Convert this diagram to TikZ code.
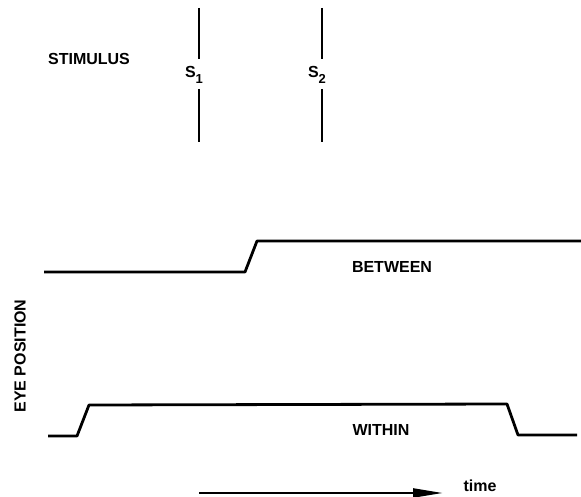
\documentclass[tikz,border=0pt]{standalone}
\usepackage{fontspec}
\setmainfont{Liberation Sans}
\usetikzlibrary{positioning, arrows.meta}

\newcommand{\stimname}[1]{S\raisebox{-0.4em}{\fontsize{13}{13}\selectfont #1}}

\begin{document}
\begin{tikzpicture}[
                x=1pt, y=-1pt,
                txt/.style={font=\fontsize{16}{18}\selectfont\bfseries, inner sep=0pt},
                stim/.style={draw, line width=2.8pt},
                trace/.style={draw, line width=2.8pt, line join=round},
                arrow/.style={draw, line width=2.4pt, -{Triangle[length=30pt, width=9pt]}}
              ]
  \useasboundingbox (0,0) rectangle (581,497);

  % Stimulus markers
  \node (STIM) [txt] at (89,59) {STIMULUS};
  \node (S1) [txt] at (194,75) {\stimname{1}};
  \node (S2) [txt] at (317,75) {\stimname{2}};
  \coordinate (s1a) at (199,8);   \coordinate (s1b) at (199,59);
  \coordinate (s1c) at (199,89);  \coordinate (s1d) at (199,142);
  \coordinate (s2a) at (322,8);   \coordinate (s2b) at (322,59);
  \coordinate (s2c) at (322,89);  \coordinate (s2d) at (322,142);
  \draw[stim] (s1a) -- (s1b);
  \draw[stim] (s1c) -- (s1d);
  \draw[stim] (s2a) -- (s2b);
  \draw[stim] (s2c) -- (s2d);

  % Eye position traces
  \node (EYE) [txt, rotate=90] at (20,356) {EYE POSITION};

  \coordinate (b0) at (44,272);  \coordinate (b1) at (245,272);
  \coordinate (b2) at (257,241); \coordinate (b3) at (581,241);
  \draw[trace] (b0) -- (b1) -- (b2) -- (b3);
  \node (BTW) [txt] at (392,267) {BETWEEN};

  \coordinate (w0) at (48,436);  \coordinate (w1) at (77,436);
  \coordinate (w2) at (89,405);  \coordinate (w3) at (507,404);
  \coordinate (w4) at (518,435); \coordinate (w5) at (577,435);
  \draw[trace] (w0) -- (w1) -- (w2) -- (w3) -- (w4) -- (w5);
  \node (WTH) [txt] at (381,430) {WITHIN};

  % Time axis
  \coordinate (t0) at (199,493);
  \coordinate (t1) at (443,493);
  \node (TIME) [txt] at (480,486) {time};
  \draw[arrow] (t0) -- (t1);

\end{tikzpicture}
\end{document}
